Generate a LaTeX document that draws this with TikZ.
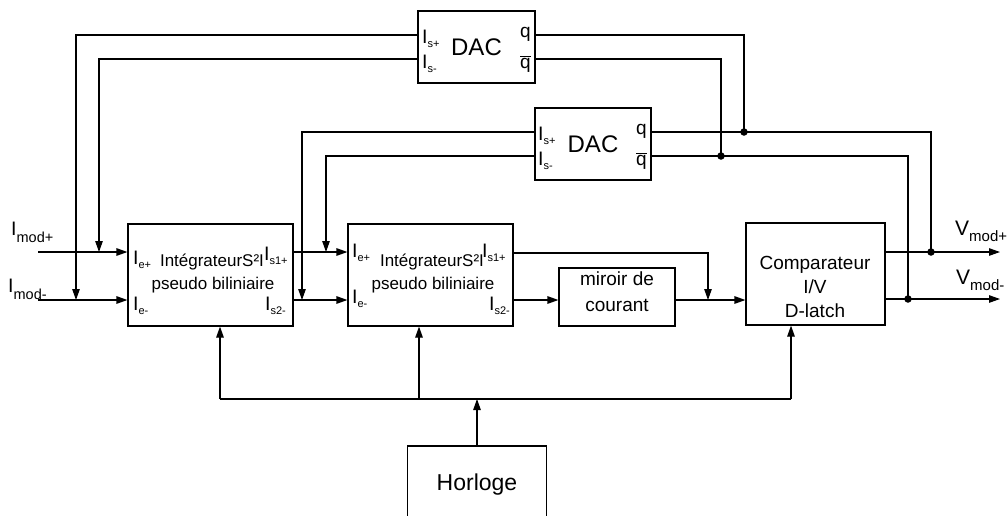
\documentclass[tikz,border=0pt]{standalone}
\usepackage{fontspec}
\setmainfont{Liberation Sans}
\usetikzlibrary{arrows.meta}
\newcommand{\fs}[1]{\fontsize{#1}{#1}\selectfont}
% port label: I with lowered small index
\newcommand{\plab}[1]{{\fs{19.5}I}{\fs{11}\raisebox{-4pt}{#1}}}
\newcommand{\qbar}{{\fs{19}$\overline{\mbox{q}}$}}
\begin{document}
\begin{tikzpicture}[x=1pt,y=-1pt,
  ln/.style={line width=1.15pt, line join=miter},
  arr/.style={ln, -{Triangle[length=11pt,width=7.5pt]}},
  blk/.style={draw, line width=1.15pt, inner sep=0pt, anchor=center},
  txt/.style={inner sep=0pt, anchor=base},
  lab/.style={inner sep=0pt, anchor=base west},
  jdot/.style={circle, fill, inner sep=0pt, minimum size=7.5pt}]
\useasboundingbox (0,0) rectangle (1007,515);

% ---------- blocks
\node[blk, minimum width=117pt, minimum height=72pt, font=\fs{24}] (dac1) at (476.5,47) {DAC};
\node[blk, minimum width=116pt, minimum height=72pt, font=\fs{24}] (dac2) at (593,144) {DAC};
\node[blk, minimum width=165pt, minimum height=102pt] (int1) at (210.5,275) {};
\node[blk, minimum width=165pt, minimum height=102pt] (int2) at (430.5,275) {};
\node[blk, minimum width=116pt, minimum height=58pt] (mir) at (617,297) {};
\node[blk, minimum width=139pt, minimum height=102pt] (comp) at (815.5,274) {};
\node[blk, minimum width=139pt, minimum height=72pt] (clk) at (477,482) {};

% ---------- block texts
\node[txt, font=\fs{23}] (clkt) at (477,490) {Horloge};
\node[txt, font=\fs{19}] (mir1) at (617,285) {miroir de};
\node[txt, font=\fs{19}] (mir2) at (617,311) {courant};
\node[txt, font=\fs{19}] (cmp1) at (815,269) {Comparateur};
\node[txt, font=\fs{19}] (cmp2) at (815,293) {I/V};
\node[txt, font=\fs{19}] (cmp3) at (815,317) {D-latch};
\node[txt, font=\fs{17}] (i1a) at (212,266) {IntégrateurS²I};
\node[txt, font=\fs{17}] (i1b) at (213,289.5) {pseudo biliniaire};
\node[txt, font=\fs{17}] (i2a) at (432,266) {IntégrateurS²I};
\node[txt, font=\fs{17}] (i2b) at (433,289.5) {pseudo biliniaire};

% ---------- port labels
\node[lab] (l1) at (133,264) {\plab{e+}};
\node[lab] (l2) at (133,310) {\plab{e-}};
\node[lab] (l3) at (264,260) {\plab{s1+}};
\node[lab] (l4) at (265,310) {\plab{s2-}};
\node[lab] (l5) at (352,257) {\plab{e+}};
\node[lab] (l6) at (352,303) {\plab{e-}};
\node[lab] (l7) at (482,257) {\plab{s1+}};
\node[lab] (l8) at (489,310) {\plab{s2-}};
\node[lab] (l9) at (422,43) {\plab{s+}};
\node[lab] (l10) at (422,68) {\plab{s-}};
\node[lab] (l11) at (538,140) {\plab{s+}};
\node[lab] (l12) at (538,165) {\plab{s-}};
\node[lab, font=\fs{19}] (q1) at (520,37) {q};
\node[lab] (q2) at (520,68) {\qbar};
\node[lab, font=\fs{19}] (q3) at (636,134) {q};
\node[lab] (q4) at (636,165) {\qbar};

% ---------- external labels
\node[lab] (imp) at (11,235) {{\fs{19.5}I}{\fs{14.5}\raisebox{-7.5pt}{mod+}}};
\node[lab] (imm) at (8,292) {{\fs{19.5}I}{\fs{14.5}\raisebox{-7.5pt}{mod-}}};
\node[lab] (vmp) at (955,235) {{\fs{21}V}{\fs{15}\raisebox{-6pt}{mod+}}};
\node[lab] (vmm) at (956,284) {{\fs{21}V}{\fs{15}\raisebox{-6pt}{mod-}}};

% ---------- coordinates
\coordinate (inp) at (38,252);
\coordinate (inm) at (38,300);
\coordinate (ja) at (76,300);
\coordinate (jb) at (99,252);
\coordinate (jc) at (302,300);
\coordinate (jd) at (326,252);
\coordinate (je) at (708,300);
\coordinate (vp) at (1000,252);
\coordinate (vm) at (1000,299);
\coordinate (k1) at (931,252);
\coordinate (k2) at (908,299);
\coordinate (k3) at (744,132);
\coordinate (k4) at (721,156);
\coordinate (b1) at (220,399);
\coordinate (b2) at (419,399);
\coordinate (b3) at (791,399);
\coordinate (b0) at (477,399);

% ---------- inputs
\draw[arr] (inp) -- (int1.west |- inp);
\draw[arr] (inm) -- (int1.west |- inm);

% ---------- DAC feedback to inputs
\draw[arr] (dac1.west |- 0,35) -| (ja);
\draw[arr] (dac1.west |- 0,59) -| (jb);
\draw[arr] (dac2.west |- 0,132) -| (jc);
\draw[arr] (dac2.west |- 0,156) -| (jd);

% ---------- forward chain
\draw[arr] (int1.east |- 0,252) -- (int2.west |- 0,252);
\draw[arr] (int1.east |- 0,300) -- (int2.west |- 0,300);
\draw[arr] (int2.east |- 0,300) -- (mir.west |- 0,300);
\draw[arr] (int2.east |- 0,253) -| (je);
\draw[arr] (mir.east |- 0,300) -- (comp.west |- 0,300);
\draw[arr] (comp.east |- vp) -- (vp);
\draw[arr] (comp.east |- vm) -- (vm);

% ---------- outputs back to DACs
\draw[ln] (dac2.east |- 0,132) -| (k1);
\draw[ln] (dac2.east |- 0,156) -| (k2);
\draw[ln] (dac1.east |- 0,35) -| (k3);
\draw[ln] (dac1.east |- 0,59) -| (k4);
\draw[line width=1.9pt] (824,132) -- (849,132);
\node[jdot] at (k1) {};
\node[jdot] at (k2) {};
\node[jdot] at (k3) {};
\node[jdot] at (k4) {};

% ---------- clock
\draw[ln] (b1) -- (b3);
\draw[arr] (b1) -- (int1.south -| b1);
\draw[arr] (b2) -- (int2.south -| b2);
\draw[arr] (b3) -- (comp.south -| b3);
\draw[arr] (clk.north) -- (b0);
\end{tikzpicture}
\end{document}
